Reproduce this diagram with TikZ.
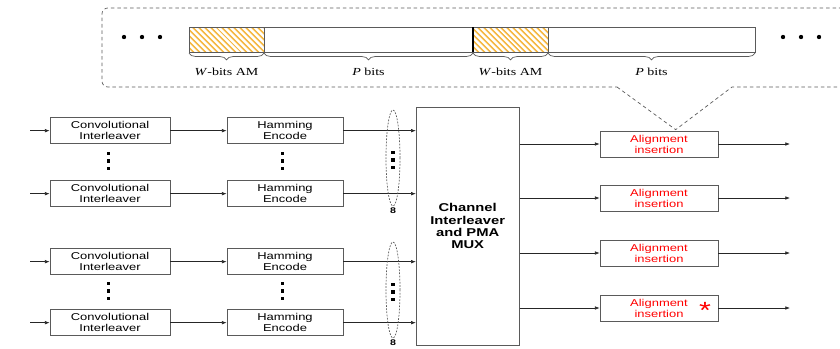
\documentclass[tikz,border=0pt]{standalone}
\usepackage{fontspec}
\setmainfont[FakeStretch=1.3]{Liberation Sans}
\newfontfamily\bitfont[FakeStretch=1.3]{Liberation Serif}
\usetikzlibrary{arrows.meta,calc,positioning,shapes.geometric,patterns.meta,decorations.pathreplacing}
\definecolor{hatch}{RGB}{245,185,70}
\definecolor{edge}{RGB}{90,90,90}
\newcommand{\sqdots}[2]{\foreach \k in {-0.28,-0.05,0.18} \fill[shift={(#1,#2)}] (-0.05,\k) rectangle ++(0.1,0.1);}

\begin{document}
\begin{tikzpicture}[
  blk/.style={draw=edge, line width=0.6pt, minimum height=0.78cm, inner sep=1pt, align=center, font=\fontsize{8.5}{9.5}\selectfont},
  conv/.style={blk, minimum width=3.6cm},
  ham/.style={blk, minimum width=3.48cm},
  alins/.style={blk, minimum width=3.54cm, text=red},
  mux/.style={draw=edge, line width=0.6pt, minimum width=3.09cm, minimum height=7.14cm, align=center, font=\bfseries\fontsize{9.7}{10.3}\selectfont},
  seg/.style={draw=edge, line width=0.8pt, minimum height=0.75cm, inner sep=0pt, outer sep=0pt},
  am/.style={seg, pattern={Lines[angle=-45,distance=4pt,line width=1.8pt]}, pattern color=hatch},
  bitlbl/.style={font=\bitfont\fontsize{9.2}{10}\selectfont, inner sep=1pt},
  brc/.style={decorate, decoration={brace, mirror, amplitude=0.2cm}, draw=edge, line width=0.6pt},
  bundle/.style={ellipse, draw=edge, dash pattern=on 1.5pt off 1.2pt, line width=0.6pt, minimum width=0.42cm, minimum height=2.88cm, inner sep=0pt},
  count/.style={font=\bfseries\fontsize{7}{7}\selectfont, inner sep=1pt},
  arr/.style={-{Latex[length=4pt,width=3pt]}, draw=black!85, line width=0.5pt},
  callout/.style={draw=edge, dash pattern=on 3pt off 2.5pt, line width=0.6pt}
]
\clip (0,0) rectangle (25.2,-10.44);

% frame with alignment markers
\node[am, minimum width=2.25cm, anchor=west] (am1) at (5.67,-1.185) {};
\node[seg, minimum width=6.27cm, right=0cm of am1] (pb1) {};
\node[am, minimum width=2.25cm, right=0cm of pb1] (am2) {};
\node[seg, minimum width=6.21cm, right=0cm of am2] (pb2) {};
\draw[line width=1.6pt] (am2.north west) -- (am2.south west);
\foreach \s/\t in {am1/{\textit{W}-bits AM}, pb1/{\textit{P} bits}, am2/{\textit{W}-bits AM}, pb2/{\textit{P} bits}} {
  \draw[brc] ([yshift=-1pt]\s.south west) -- ([yshift=-1pt]\s.south east);
  \node[bitlbl, below=0.45cm of \s] (l\s) {\t};
}
\foreach \x in {3.72,4.26,4.8,23.49,24.03,24.57} \fill (\x,-1.11) circle (0.065);

% lanes
\foreach \i/\y in {1/-3.92,2/-5.81,3/-7.85,4/-9.68} {
  \node[conv] (ci\i) at (3.3,\y) {Convolutional\\Interleaver};
  \node[ham] (he\i) at (8.55,\y) {Hamming\\Encode};
  \coordinate (in\i) at (0.9,\y);
}
\node[mux] (mux) at (14.03,-6.78) {Channel\\Interleaver\\ and PMA\\MUX};
\foreach \i in {1,...,4} {
  \draw[arr] (in\i) -- (ci\i);
  \draw[arr] (ci\i) -- (he\i);
  \draw[arr] (he\i.east) -- (he\i.east -| mux.west);
}
\node[bundle] (bn1) at (11.79,-4.74) {};
\node[bundle] (bn2) at (11.79,-8.7) {};
\node[count, below=0pt of bn1] (cnt1) {8};
\node[count, below=0pt of bn2] (cnt2) {8};
\sqdots{3.25}{-4.83} \sqdots{8.48}{-4.83} \sqdots{11.79}{-4.8}
\sqdots{3.25}{-8.73} \sqdots{8.48}{-8.73} \sqdots{11.79}{-8.76}

% alignment insertion
\foreach \i/\y in {1/-4.32,2/-5.94,3/-7.59,4/-9.24} {
  \node[alins] (al\i) at (19.77,\y) {Alignment\\insertion};
  \coordinate (out\i) at (23.7,\y);
  \draw[arr] (al\i.west -| mux.east) -- (al\i);
  \draw[arr] (al\i) -- (out\i);
}
\node[text=red, font=\fontsize{20}{20}\selectfont, inner sep=0pt] (star) at (21.15,-9.3) {*};

% callout
\coordinate (tip) at ($(al1.north)+(0.5,0.03)$);
\draw[callout] (18.51,-2.61) -- (tip) -- (21.96,-2.61) -- (25.6,-2.61) -- (25.6,-0.24) [rounded corners=5pt] -- (3.06,-0.24) -- (3.06,-2.61) -- (18.51,-2.61);
\end{tikzpicture}
\end{document}
